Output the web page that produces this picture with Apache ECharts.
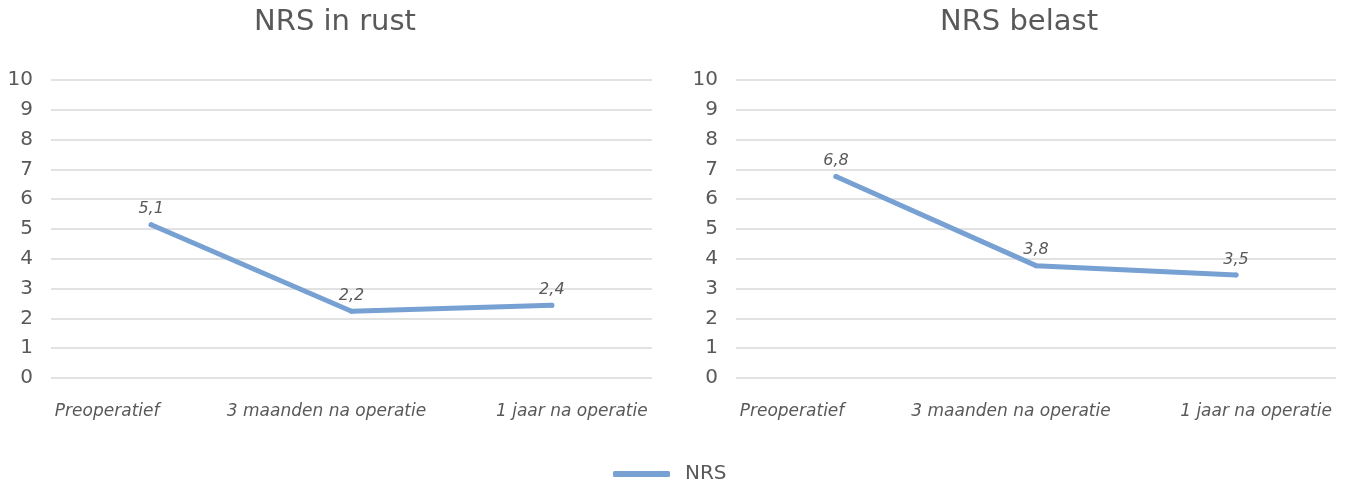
<!DOCTYPE html>
<html>
<head>
<meta charset="utf-8">
<script src="https://cdn.jsdelivr.net/npm/echarts@6/dist/echarts.min.js"></script>
<style>
html,body{margin:0;padding:0;background:#fff;}
#c{width:1351px;height:480px;}
</style>
</head>
<body>
<div id="c"></div>
<script>
const categories = ['Preoperatief', '3 maanden na operatie', '1 jaar na operatie'];
const nrsRust = [5.14, 2.24, 2.44];
const nrsBelast = [6.76, 3.77, 3.46];
const titles = ['NRS in rust', 'NRS belast'];
const seriesName = 'NRS';
const yMin = 0, yMax = 10, yStep = 1;

const FONT = 'DejaVu Sans';
const GREY = '#595959';
const LINE = '#77A0D3';

const labelRich = {};
const shifts = [[0, 88, 0, 0], [0, 50, 0, 0], [0, 0, 0, 40]];
shifts.forEach((p, i) => {
  labelRich['c' + i] = { padding: p, fontFamily: FONT, fontSize: 17, fontStyle: 'italic', color: GREY };
});

function xAxis(gi) {
  return {
    type: 'category', gridIndex: gi, data: categories, boundaryGap: true,
    axisLine: { show: false }, axisTick: { show: false },
    axisLabel: {
      margin: 25, fontFamily: FONT, fontSize: 17, fontStyle: 'italic', color: GREY, interval: 0,
      formatter: (v, i) => '{c' + i + '|' + v + '}', rich: labelRich
    }
  };
}
function yAxis(gi) {
  return {
    type: 'value', gridIndex: gi, min: yMin, max: yMax, interval: yStep,
    axisLine: { show: false }, axisTick: { show: false },
    axisLabel: { margin: 18, fontFamily: FONT, fontSize: 20, color: GREY },
    splitLine: { lineStyle: { color: '#D9D9D9', width: 1.5 } }
  };
}
function series(gi, data) {
  return {
    name: seriesName, type: 'line', xAxisIndex: gi, yAxisIndex: gi, data: data,
    symbol: 'circle', symbolSize: 5, showSymbol: true, smooth: false,
    lineStyle: { color: LINE, width: 5, cap: 'round', join: 'round' },
    itemStyle: { color: LINE, borderWidth: 0 },
    label: {
      show: true, position: 'top', distance: 5,
      fontFamily: FONT, fontSize: 16, fontStyle: 'italic', color: GREY,
      formatter: p => p.value.toFixed(1).replace('.', ',')
    },
    emphasis: { disabled: true }
  };
}

const chart = echarts.init(document.getElementById('c'), null, { renderer: 'canvas' });
chart.setOption({
  animation: false,
  backgroundColor: '#fff',
  title: [
    { text: titles[0], left: 330, top: 3, textAlign: 'center',
      textStyle: { fontFamily: FONT, fontSize: 29, fontWeight: 'normal', color: GREY } },
    { text: titles[1], left: 1014, top: 3, textAlign: 'center',
      textStyle: { fontFamily: FONT, fontSize: 29, fontWeight: 'normal', color: GREY } }
  ],
  legend: {
    data: [seriesName], left: 608, top: 459,
    icon: 'roundRect', itemWidth: 57, itemHeight: 6, itemGap: 10,
    textStyle: { fontFamily: FONT, fontSize: 20, color: GREY, padding: [0, 0, 0, 10] }
  },
  grid: [
    { left: 51, right: 1351 - 652, top: 80, bottom: 480 - 378 },
    { left: 736, right: 1351 - 1336, top: 80, bottom: 480 - 378 }
  ],
  xAxis: [xAxis(0), xAxis(1)],
  yAxis: [yAxis(0), yAxis(1)],
  series: [series(0, nrsRust), series(1, nrsBelast)]
});
</script>
</body>
</html>
